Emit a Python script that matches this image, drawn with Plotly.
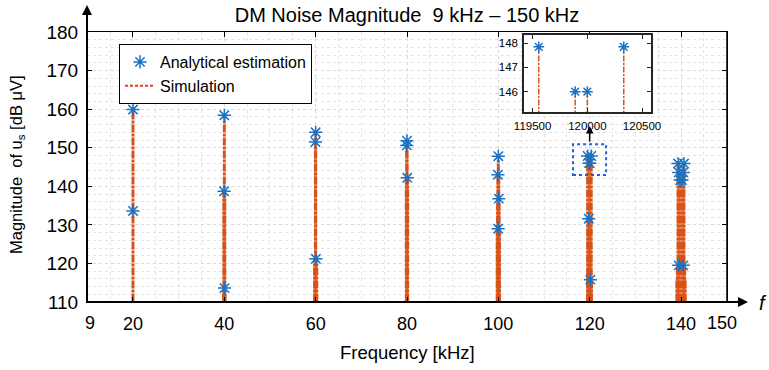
import plotly.graph_objects as go

# ---------------- data ----------------
# Analytical estimation (frequency in kHz, magnitude in dBuV)
ana_f = [20.0, 20.0,
         40.0, 39.95, 40.05,
         60.0, 59.95, 60.05,
         80.0, 79.95, 80.05,
         100.0, 99.9, 100.1, 99.95,
         119.556, 119.889, 120.0, 120.333, 119.8, 120.15,
         139.35, 140.65, 139.5, 140.5, 139.8, 140.2, 139.5, 140.5]
ana_m = [159.9, 133.6,
         158.4, 138.7, 113.6,
         154.0, 151.5, 121.2,
         151.8, 150.6, 142.2,
         147.8, 143.0, 136.8, 129.0,
         147.85, 146.0, 146.0, 147.85, 131.6, 115.8,
         145.9, 145.9, 143.6, 143.6, 141.6, 141.6, 119.5, 119.5]

# Simulation spectral lines (frequency in kHz, magnitude in dBuV)
sim_f = [20.0,
         40.0, 39.9, 40.1, 39.85, 40.15,
         60.0, 59.95, 59.75, 60.25,
         80.0, 79.95, 79.85, 80.15,
         100.0, 99.9, 100.1, 99.85, 100.15, 99.75, 100.25,
         119.556, 120.333, 119.889, 120.0, 119.7, 120.2, 119.6, 120.4,
         139.35, 140.65, 139.5, 140.5, 139.8, 140.2, 139.2, 140.8, 139.1, 140.9]
sim_m = [159.9,
         158.4, 138.7, 138.7, 113.6, 113.6,
         154.0, 151.5, 121.2, 121.2,
         151.8, 150.6, 142.2, 142.2,
         147.8, 143.0, 143.0, 136.8, 136.8, 129.0, 129.0,
         147.85, 147.85, 146.0, 146.0, 131.6, 131.6, 115.8, 115.8,
         145.9, 145.9, 143.6, 143.6, 141.6, 141.6, 119.5, 119.5, 116.0, 116.0]

x_tickvals = [20, 40, 60, 80, 100, 120, 140]
x_ticktext = ["20", "40", "60", "80", "100", "120", "140"]
y_tickvals = [110, 120, 130, 140, 150, 160, 170, 180]
inset_xticks = [119500, 120000, 120500]
inset_xtext = ["119500", "120000", "120500"]
inset_yticks = [146, 147, 148]

# ---------------- style ----------------
FONT = "Arial, Liberation Sans, sans-serif"
ORANGE = "#D95319"
BLUE = "#1A72C4"
BASE = 100.0

def stems(fs, ms, scale=1.0):
    xs, ys = [], []
    for f, m in zip(fs, ms):
        xs += [f * scale, f * scale, None]
        ys += [BASE, m, None]
    return xs, ys

fig = go.Figure()

sx, sy = stems(sim_f, sim_m)
fig.add_trace(go.Scatter(x=sx, y=sy, mode="lines", showlegend=False,
                         line=dict(color=ORANGE, width=3, dash="8px,1px,3px,1px"),
                         xaxis="x", yaxis="y", hoverinfo="skip"))
fig.add_trace(go.Scatter(x=ana_f, y=ana_m, mode="markers", name="Analytical estimation",
                         marker=dict(symbol="asterisk-open", size=11, color=BLUE,
                                     line=dict(color=BLUE, width=1.5)),
                         xaxis="x", yaxis="y"))
# legend-only entry for simulation
fig.add_trace(go.Scatter(x=[None], y=[None], mode="lines", name="Simulation",
                         line=dict(color="#EE3B1B", width=2, dash="3px,2px"),
                         xaxis="x", yaxis="y"))

# inset
ix, iy = stems(sim_f, sim_m, 1000.0)
fig.add_trace(go.Scatter(x=ix, y=iy, mode="lines", showlegend=False,
                         line=dict(color=ORANGE, width=1.5, dash="6px,1.5px,2px,1.5px"),
                         xaxis="x2", yaxis="y2", hoverinfo="skip"))
fig.add_trace(go.Scatter(x=[f * 1000 for f in ana_f], y=ana_m, mode="markers", showlegend=False,
                         marker=dict(symbol="asterisk-open", size=9, color=BLUE,
                                     line=dict(color=BLUE, width=1.5)),
                         xaxis="x2", yaxis="y2"))

grid = dict(showgrid=True, gridcolor="#d8d8d8", griddash="dot", gridwidth=1)

fig.update_layout(
    width=769, height=370,
    margin=dict(l=87, r=42, t=32, b=68),
    paper_bgcolor="white", plot_bgcolor="white",
    font=dict(family=FONT, color="black"),
    title=dict(text="DM Noise Magnitude\u00a0\u00a09 kHz \u2013 150 kHz",
               x=0.5, xref="paper", y=1 - 15 / 370, yanchor="middle",
               font=dict(size=20, family=FONT, color="black")),
    xaxis=dict(domain=[0, 1], range=[9.93, 150.07], tickvals=x_tickvals, ticktext=x_ticktext,
               ticks="inside", ticklen=5, tickcolor="black", mirror="ticks",
               showline=True, linecolor="black", linewidth=1,
               tickfont=dict(size=18, family=FONT), ticklabelstandoff=5,
               minor=dict(dtick=5, showgrid=True, gridcolor="#e4e4e4", griddash="dot"),
               zeroline=False, **grid),
    yaxis=dict(domain=[0, 1], range=[110, 180], tickvals=y_tickvals,
               ticks="inside", ticklen=5, tickcolor="black", mirror="ticks",
               showline=True, linecolor="black", linewidth=1,
               tickfont=dict(size=19, family=FONT), ticklabelstandoff=4,
               minor=dict(dtick=2, showgrid=True, gridcolor="#e4e4e4", griddash="dot"),
               zeroline=False, **grid),
    xaxis2=dict(domain=[(524 - 87) / 640, (651 - 87) / 640], anchor="y2",
                range=[119421, 120582], tickvals=inset_xticks, ticktext=inset_xtext,
                ticks="inside", ticklen=4, tickcolor="#262626", mirror="ticks",
                showline=True, linecolor="#262626", linewidth=1.5, showgrid=False,
                zeroline=False, tickfont=dict(size=11.5, family=FONT), ticklabelstandoff=2),
    yaxis2=dict(domain=[(302 - 112) / 270, (302 - 35) / 270], anchor="x2",
                range=[145.16, 148.34], tickvals=inset_yticks,
                ticks="inside", ticklen=4, tickcolor="#262626", mirror="ticks",
                showline=True, linecolor="#262626", linewidth=1.5, showgrid=False,
                zeroline=False, tickfont=dict(size=11.5, family=FONT), ticklabelstandoff=2),
    legend=dict(x=(119 - 87) / 640, y=(302 - 44) / 270, xanchor="left", yanchor="top",
                bgcolor="white", bordercolor="black", borderwidth=1,
                font=dict(size=16, family=FONT), itemwidth=30, tracegroupgap=0),
    showlegend=True,
)

# zoom box around the 120 kHz group
fig.add_shape(type="rect", xref="x", yref="y", x0=116.35, x1=123.6, y0=142.9, y1=150.9,
              line=dict(color="#1F5FE8", width=2, dash="dot"), fillcolor="rgba(0,0,0,0)")
# thick left / bottom axis lines
fig.add_shape(type="line", xref="paper", yref="paper", x0=0, x1=0, y0=0, y1=1,
              line=dict(color="black", width=2))
fig.add_shape(type="line", xref="paper", yref="paper", x0=0, x1=1, y0=0, y1=0,
              line=dict(color="black", width=2))
fig.add_shape(type="line", xref="paper", yref="paper", x0=1, x1=1, y0=0, y1=1,
              line=dict(color="black", width=1.5))

# arrows
fig.add_annotation(xref="paper", yref="paper", x=0, y=(302 - 5) / 270, ax=0, ay=297,
                   axref="pixel", ayref="pixel", showarrow=True, arrowhead=2,
                   arrowsize=1, arrowwidth=2, arrowcolor="black", text="")
fig.add_annotation(xref="paper", yref="paper", x=(748 - 87) / 640, y=0, ax=-661, ay=0,
                   showarrow=True, arrowhead=2, arrowsize=1, arrowwidth=2,
                   arrowcolor="black", text="")
fig.add_annotation(xref="x", yref="paper", x=120, y=(302 - 126) / 270, ax=0, ay=17,
                   showarrow=True, arrowhead=2, arrowsize=1, arrowwidth=1.5,
                   arrowcolor="black", text="")

# axis labels
fig.add_annotation(xref="paper", yref="paper", x=(763 - 87) / 640, y=0, text="<i>f</i>",
                   showarrow=False, font=dict(size=20, family=FONT), xanchor="center",
                   yanchor="middle", yshift=-1)
fig.add_annotation(xref="paper", yref="paper", x=(83 - 87) / 640, y=-21 / 270, text="9",
                   showarrow=False, font=dict(size=18, family=FONT), yanchor="middle")
fig.add_annotation(xref="paper", yref="paper", x=(739 - 87) / 640, y=-21 / 270, text="150",
                   showarrow=False, font=dict(size=18, family=FONT), yanchor="middle")
fig.add_annotation(xref="paper", yref="paper", x=(407 - 87) / 640, y=-(352 - 302) / 270,
                   text="Frequency [kHz]", showarrow=False,
                   font=dict(size=18.5, family=FONT), yanchor="middle")
fig.add_annotation(xref="paper", yref="paper", x=(17 - 87) / 640, y=(302 - 165) / 270,
                   text="Magnitude\u00a0\u00a0of u<sub>s</sub> [dB \u03bcV]", textangle=-90,
                   showarrow=False, font=dict(size=16.5, family=FONT),
                   xanchor="center", yanchor="middle")

fig.write_html("out.html", config={"displayModeBar": False},
               post_script="document.body.style.margin='0';")
